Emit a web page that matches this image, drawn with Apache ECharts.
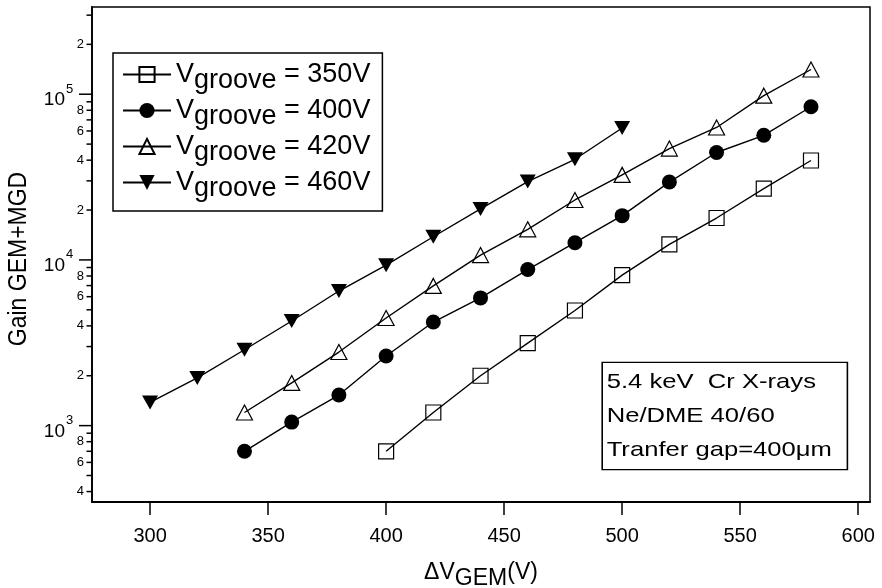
<!DOCTYPE html>
<html><head><meta charset="utf-8">
<script src="https://cdn.jsdelivr.net/npm/echarts@6/dist/echarts.min.js"></script>
<style>html,body{margin:0;padding:0;background:#fff}#c{width:882px;height:588px}</style>
</head><body><div id="c"></div>
<script>
const FONT = '"Liberation Sans", Arial, Helvetica, sans-serif';

// ---- data ----
const seriesNames = ['V350', 'V400', 'V420', 'V460'];
const grooveLabels = ['350V', '400V', '420V', '460V'];

const x350 = [400, 420, 440, 460, 480, 500, 520, 540, 560, 580];
const y350 = [700, 1200, 2000, 3150, 4950, 8100, 12400, 17900, 26900, 39800];

const x400 = [340, 360, 380, 400, 420, 440, 460, 480, 500, 520, 540, 560, 580];
const y400 = [700, 1050, 1530, 2630, 4220, 5900, 8750, 12700, 18500, 29500, 44500, 56500, 84000];

const x420 = [340, 360, 380, 400, 420, 440, 460, 480, 500, 520, 540, 560, 580];
const y420 = [1200, 1810, 2780, 4460, 6970, 10700, 15300, 23000, 32600, 47000, 63000, 98000, 141000];

const x460 = [300, 320, 340, 360, 380, 400, 420, 440, 460, 480, 500];
const y460 = [1380, 1940, 2870, 4280, 6490, 9300, 13800, 20300, 29700, 40500, 62500];

const xTicks = [300, 350, 400, 450, 500, 550, 600];
const yTickValues = [400, 500, 600, 700, 800, 900,
  1000, 2000, 3000, 4000, 5000, 6000, 7000, 8000, 9000,
  10000, 20000, 30000, 40000, 50000, 60000, 70000, 80000, 90000,
  100000, 200000, 300000];
const yTickLabels = ['4', '', '6', '', '8', '',
  '10^3', '2', '', '4', '', '6', '', '8', '',
  '10^4', '2', '', '4', '', '6', '', '8', '',
  '10^5', '2', ''];

const X_MIN = 275.4, X_MAX = 605, Y_MIN = 346, Y_MAX = 336000;

function pairs(xs, ys) { return xs.map((x, i) => [x, ys[i]]); }

const chart = echarts.init(document.getElementById('c'), null, { renderer: 'canvas' });

const lineBase = {
  type: 'line', silent: true, symbolSize: 15,
  lineStyle: { color: '#000', width: 1.4 },
  animation: false
};

const option = {
  backgroundColor: '#fff',
  animation: false,
  grid: { left: 92, right: 12, top: 7, bottom: 86, show: true, borderColor: '#000', borderWidth: 1.5, backgroundColor: 'transparent' },
  xAxis: {
    type: 'value', min: X_MIN, max: X_MAX,
    axisLine: { show: true, lineStyle: { color: '#000', width: 1.8 } },
    axisTick: { show: true, customValues: xTicks, length: 13, lineStyle: { color: '#000', width: 1.5 } },
    axisLabel: { show: true, customValues: xTicks, margin: 24, fontSize: 20, fontFamily: FONT, color: '#000' },
    splitLine: { show: false }
  },
  yAxis: {
    type: 'log', logBase: 10, min: Y_MIN, max: Y_MAX,
    axisLine: { show: true, lineStyle: { color: '#000', width: 1.8 } },
    axisTick: { show: false },
    axisLabel: { show: false },
    splitLine: { show: false },
    minorTick: { show: false }
  },
  legend: {
    data: seriesNames,
    orient: 'vertical', left: 113, top: 53,
    itemWidth: 48, itemHeight: 19, itemGap: -3,
    padding: [2, 12, 9, 9],
    borderColor: '#000', borderWidth: 1.5, backgroundColor: '#fff',
    selectedMode: false,
    formatter: function (name) {
      const i = seriesNames.indexOf(name);
      return '{v|V}{g|groove}{v| = ' + grooveLabels[i] + '}';
    },
    textStyle: {
      color: '#000',
      rich: {
        v: { fontSize: 27, lineHeight: 21, fontFamily: FONT, color: '#000' },
        g: { fontSize: 27, lineHeight: 21, fontFamily: FONT, color: '#000', padding: [12, 0, 0, 0] }
      }
    }
  },
  graphic: [
    {
      type: 'text', x: 603, y: 363, scaleX: 1.22, z: 100,
      style: {
        text: '5.4 keV  Cr X-rays\nNe/DME 40/60\nTranfer gap=400\u03bcm',
        font: '21px ' + FONT, fill: '#000', lineHeight: 34,
        backgroundColor: '#fff', borderColor: '#000', borderWidth: 1.3,
        padding: [2, 12, 2, 3]
      }
    },
    {
      type: 'text', x: 19, y: 259, rotation: Math.PI / 2, scaleY: 1.15,
      style: { text: 'Gain GEM+MGD', font: '23px ' + FONT, fill: '#000', align: 'center', verticalAlign: 'middle' }
    },
    {
      type: 'text', x: 481, y: 573,
      style: {
        text: '{a|\u0394V}{s|GEM}{a|(V)}', align: 'center', verticalAlign: 'middle',
        rich: {
          a: { fontSize: 23, fontFamily: FONT, fill: '#000', color: '#000' },
          s: { fontSize: 23, fontFamily: FONT, fill: '#000', color: '#000', padding: [12, 0, 0, 0] }
        }
      }
    }
  ],
  series: [
    Object.assign({}, lineBase, {
      name: 'V350', data: pairs(x350, y350), symbol: 'rect',
      itemStyle: { color: 'rgba(0,0,0,0)', borderColor: '#000', borderWidth: 1.2 }
    }),
    Object.assign({}, lineBase, {
      name: 'V400', data: pairs(x400, y400), symbol: 'circle',
      itemStyle: { color: '#000', borderColor: '#000', borderWidth: 0 }
    }),
    Object.assign({}, lineBase, {
      name: 'V420', data: pairs(x420, y420), symbol: 'triangle', symbolSize: [16, 15],
      itemStyle: { color: 'rgba(0,0,0,0)', borderColor: '#000', borderWidth: 1.2 }
    }),
    Object.assign({}, lineBase, {
      name: 'V460', data: pairs(x460, y460), symbol: 'path://M0,0 L10,0 L5,9 Z', symbolSize: [16, 14],
      itemStyle: { color: '#000', borderColor: '#000', borderWidth: 0 }
    }),
    {
      type: 'custom', name: 'yticks', silent: true, clip: false, z: 5,
      data: yTickValues.map(v => [X_MIN, v]),
      encode: { x: 0, y: 1 },
      renderItem: function (params, api) {
        const v = api.value(1);
        const p = api.coord([X_MIN, v]);
        const lab = yTickLabels[params.dataIndex];
        const major = lab.indexOf('^') >= 0;
        const len = major ? 13 : 5.5;
        const children = [{
          type: 'line',
          shape: { x1: p[0] - len, y1: p[1], x2: p[0], y2: p[1] },
          style: { stroke: '#000', lineWidth: 1.5 }
        }];
        if (major) {
          const parts = lab.split('^');
          children.push({ type: 'text', style: { text: parts[0], x: p[0] - 27, y: p[1] + 6, align: 'right', verticalAlign: 'middle', font: '19px ' + FONT, fill: '#000' } });
          children.push({ type: 'text', style: { text: parts[1], x: p[0] - 26, y: p[1] - 5, align: 'left', verticalAlign: 'middle', font: '13px ' + FONT, fill: '#000' } });
        } else if (lab) {
          children.push({ type: 'text', style: { text: lab, x: p[0] - 8, y: p[1], align: 'right', verticalAlign: 'middle', font: '13px ' + FONT, fill: '#000' } });
        }
        return { type: 'group', children: children };
      }
    }
  ]
};
chart.setOption(option);
</script></body></html>
